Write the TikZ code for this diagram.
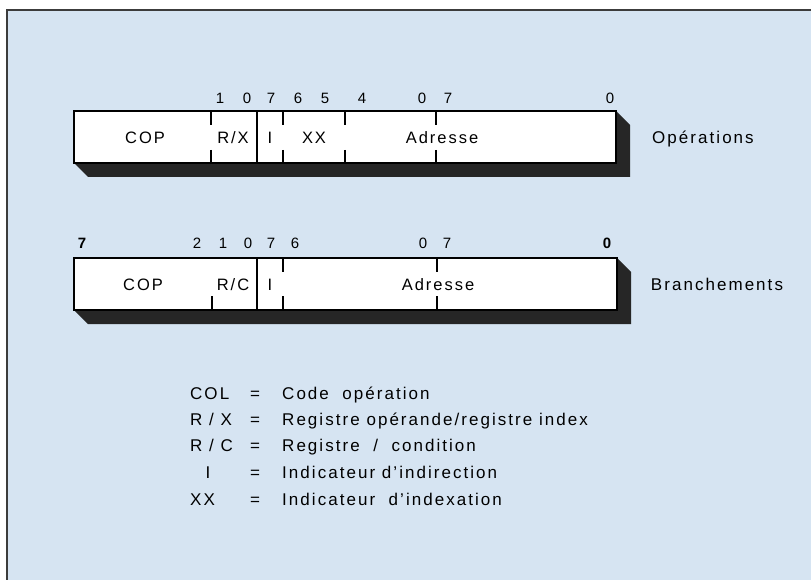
\documentclass[tikz,border=0pt]{standalone}
\usepackage{fontspec}
\setmainfont{Liberation Sans}[LetterSpace=12]
\usetikzlibrary{positioning,calc}
\definecolor{paperblue}{RGB}{214,228,242}
\definecolor{shadowgrey}{RGB}{38,38,38}
\definecolor{framegrey}{RGB}{60,60,60}

\begin{document}
\begin{tikzpicture}[
    x=1pt, y=-1pt,
    box_style/.style={draw=black, line width=1.1pt, fill=white},
    shade_style/.style={fill=shadowgrey},
    tick_line/.style={line width=1.1pt},
    split_line/.style={line width=2.6pt},
    field_text/.style={font=\fontsize{16.5}{19}\selectfont, inner sep=0pt, anchor=base},
    bit_num/.style={font=\fontsize{15}{18}\selectfont, inner sep=0pt, anchor=base},
    word_label/.style={font=\fontsize{17}{20}\selectfont, inner sep=0pt, anchor=base},
    legend_text/.style={font=\fontsize{17}{20}\selectfont, inner sep=0pt, anchor=base west}
]
\useasboundingbox (0,0) rectangle (811,580);
\fill[white] (0,0) rectangle (811,580);
\fill[paperblue] (7,10) rectangle (811,580);
\draw[framegrey, line width=2.2pt] (7,580) -- (7,10) -- (811,10);

% format des operations
\fill[shade_style] (74,163) -- (88,177) -- (630,177) -- (630,125) -- (616,111) -- cycle;
\draw[box_style] (74,111) rectangle (616,163);
\draw[tick_line] (211,111) -- (211,125) (211,150) -- (211,163);
\draw[split_line] (257,111) -- (257,163);
\draw[tick_line] (283,111) -- (283,125) (283,150) -- (283,163);
\draw[tick_line] (345,111) -- (345,125) (345,150) -- (345,163);
\draw[tick_line] (436,111) -- (436,125) (436,150) -- (436,163);

\node[field_text] (op_cop) at (145,144) {COP};
\node[field_text] (op_rx) at (233,144) {R/X};
\node[field_text] (op_i) at (270,144) {I};
\node[field_text] (op_xx) at (314,144) {XX};
\node[field_text] (op_adr) at (442,144) {Adresse};
\node[word_label] (op_name) at (703,144) {Opérations};

\node[bit_num] (op_b1) at (220,104) {1};
\node[bit_num] (op_b0) at (247,104) {0};
\node[bit_num] (op_b7) at (271,104) {7};
\node[bit_num] (op_b6) at (298,104) {6};
\node[bit_num] (op_b5) at (325,104) {5};
\node[bit_num] (op_b4) at (362,104) {4};
\node[bit_num] (op_c0) at (422,104) {0};
\node[bit_num] (op_c7) at (448,104) {7};
\node[bit_num] (op_end) at (610,104) {0};

% format des branchements
\fill[shade_style] (74,310) -- (88,324) -- (631,324) -- (631,272) -- (617,258) -- cycle;
\draw[box_style] (74,258) rectangle (617,310);
\draw[tick_line] (212,296) -- (212,310);
\draw[split_line] (257,258) -- (257,310);
\draw[tick_line] (283,258) -- (283,272) (283,296) -- (283,310);
\draw[tick_line] (437,258) -- (437,272) (437,296) -- (437,310);

\node[field_text] (br_cop) at (143,290) {COP};
\node[field_text] (br_rc) at (233,290) {R/C};
\node[field_text] (br_i) at (270,290) {I};
\node[field_text] (br_adr) at (438,290) {Adresse};
\node[word_label] (br_name) at (717,290) {Branchements};

\node[bit_num, font=\fontsize{15}{18}\selectfont\bfseries] (br_b7) at (82,248) {7};
\node[bit_num] (br_b2) at (197,248) {2};
\node[bit_num] (br_b1) at (223,248) {1};
\node[bit_num] (br_b0) at (248,248) {0};
\node[bit_num] (br_c7) at (271,248) {7};
\node[bit_num] (br_c6) at (295,248) {6};
\node[bit_num] (br_d0) at (423,248) {0};
\node[bit_num] (br_d7) at (447,248) {7};
\node[bit_num, font=\fontsize{15}{18}\selectfont\bfseries] (br_end) at (607,248) {0};

% legende
\node[legend_text] (lg_col) at (190,399) {COL};
\node[legend_text] (lg_rx) at (190,425) {R / X};
\node[legend_text] (lg_rc) at (190,451) {R / C};
\node[legend_text, anchor=base] (lg_i) at (208,478) {I};
\node[legend_text] (lg_xx) at (190,505) {XX};

\node[legend_text, anchor=base] (eq_col) at (255,399) {=};
\node[legend_text, anchor=base] (eq_rx) at (255,425) {=};
\node[legend_text, anchor=base] (eq_rc) at (255,451) {=};
\node[legend_text, anchor=base] (eq_i) at (255,478) {=};
\node[legend_text, anchor=base] (eq_xx) at (255,505) {=};

\node[legend_text] (tx_col) at (282,399) {Code \ opération};
\node[legend_text] (tx_rx) at (282,425) {Registre opérande/registre index};
\node[legend_text] (tx_rc) at (282,451) {Registre \ / \ condition};
\node[legend_text] (tx_i) at (282,478) {Indicateur d'indirection};
\node[legend_text] (tx_xx) at (282,505) {Indicateur \ d'indexation};

\end{tikzpicture}
\end{document}
